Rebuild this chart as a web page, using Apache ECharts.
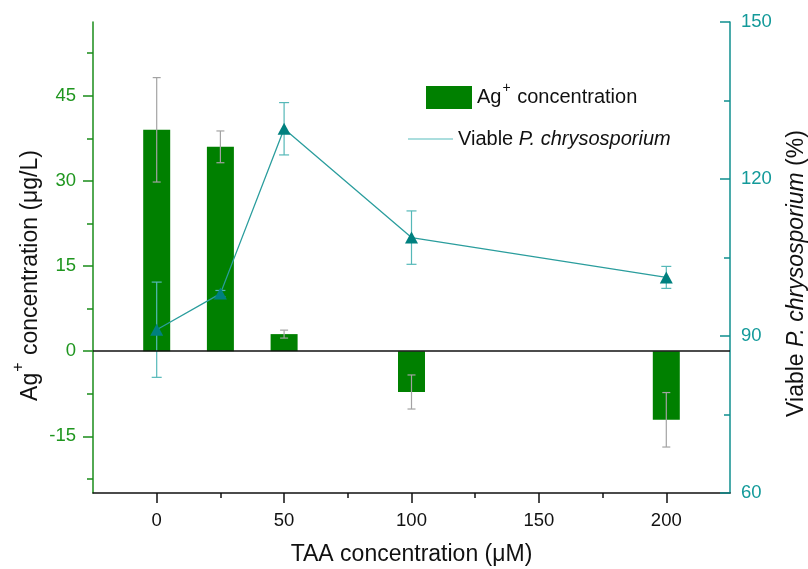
<!DOCTYPE html>
<html>
<head>
<meta charset="utf-8">
<script src="https://cdn.jsdelivr.net/npm/echarts@6/dist/echarts.min.js"></script>
<style>html,body{margin:0;padding:0;background:#fff}#c{width:808px;height:569px}</style>
</head>
<body>
<div id="c"></div>
<script>
// ---- data ----
const taa = [0, 25, 50, 100, 200];
const agConc = [39, 36, 3, -7.2, -12.1];
const agErr = [9.2, 2.8, 0.7, 3, 4.8];
const viable = [91.2, 98.1, 129.6, 108.8, 101.2];
const viableErr = [9.1, 0.6, 5, 5.1, 2.1];
const xTicks = [0, 50, 100, 150, 200];
const xMinor = [25, 75, 125, 175];
const yLeftTicks = [-15, 0, 15, 30, 45];
const yLeftMinor = [-22.5, -7.5, 7.5, 22.5, 37.5, 52.5];

const FONT = "'Liberation Sans', Arial, sans-serif";
const GREEN = '#008000';
const AXG = '#1a8c1a';
const TEAL = '#0f8f8f';
const TICKFS = 18.5;

function errRender(color, half) {
  return function (params, api) {
    const x = api.value(0), m = api.value(1), e = api.value(2);
    const t = api.coord([x, m + e]);
    const b = api.coord([x, m - e]);
    const st = { stroke: color, lineWidth: 1.2 };
    return {
      type: 'group',
      children: [
        { type: 'line', shape: { x1: t[0], y1: t[1], x2: b[0], y2: b[1] }, style: st },
        { type: 'line', shape: { x1: t[0] - half, y1: t[1], x2: t[0] + half, y2: t[1] }, style: st },
        { type: 'line', shape: { x1: b[0] - half, y1: b[1], x2: b[0] + half, y2: b[1] }, style: st }
      ]
    };
  };
}

const chart = echarts.init(document.getElementById('c'));
chart.setOption({
  animation: false,
  backgroundColor: '#fff',
  textStyle: { fontFamily: FONT },
  grid: { left: 93, right: 78, top: 22, bottom: 76, containLabel: false, outerBoundsMode: 'none' },
  legend: [
    {
      data: [{ name: 'Ag+', icon: 'rect' }],
      left: 426, top: 81.5, padding: 0,
      itemWidth: 46, itemHeight: 23,
      selectedMode: false,
      formatter: function () { return '{n|Ag}{s|+}{n| concentration}'; },
      textStyle: {
        rich: {
          n: { fontSize: 20, lineHeight: 24, color: '#111', fontFamily: FONT },
          s: { fontSize: 14, lineHeight: 14, color: '#111', fontFamily: FONT, padding: [0, 1, 18, 1] }
        }
      }
    },
    {
      data: [{ name: 'Viable', icon: 'rect', itemStyle: { color: '#8fd3d3' } }],
      left: 408, top: 129, padding: 0,
      itemWidth: 45, itemHeight: 1.5,
      selectedMode: false,
      formatter: function () { return '{n|Viable }{i|P. chrysosporium}'; },
      textStyle: {
        rich: {
          n: { fontSize: 20, lineHeight: 24, color: '#111', fontFamily: FONT },
          i: { fontSize: 20, lineHeight: 24, color: '#111', fontFamily: FONT, fontStyle: 'italic' }
        }
      }
    }
  ],
  xAxis: [
    {
      type: 'value', min: -25, max: 225, position: 'bottom',
      name: 'TAA concentration (μM)', nameLocation: 'middle', nameGap: 50,
      nameMoveOverlap: false,
      nameTextStyle: { fontSize: 23, color: '#111', fontFamily: FONT },
      axisLine: { show: true, onZero: false, lineStyle: { color: '#111', width: 1.5 } },
      axisTick: { show: true, customValues: xTicks, length: 10, lineStyle: { color: '#111', width: 1.5 } },
      axisLabel: { customValues: xTicks, fontSize: TICKFS, color: '#111', margin: 18, fontFamily: FONT },
      splitLine: { show: false }
    },
    {
      type: 'value', min: -25, max: 225, position: 'bottom',
      axisLine: { show: false, onZero: false },
      axisTick: { show: true, customValues: xMinor, length: 5, lineStyle: { color: '#111', width: 1.5 } },
      axisLabel: { show: false },
      splitLine: { show: false }
    }
  ],
  yAxis: [
    {
      type: 'value', min: -25, max: 58, position: 'left',
      name: '{n|Ag}{s|+}{n| concentration (μg/L)}', nameLocation: 'middle', nameGap: 49,
      nameMoveOverlap: false,
      nameTextStyle: {
        padding: [0, 36, 0, 0],
        rich: {
          n: { fontSize: 23, lineHeight: 26, color: '#111', fontFamily: FONT },
          s: { fontSize: 16, lineHeight: 16, color: '#111', fontFamily: FONT, padding: [0, 1, 24, 1] }
        }
      },
      axisLine: { show: true, onZero: false, lineStyle: { color: AXG, width: 1.5 } },
      axisTick: { show: true, customValues: yLeftTicks, length: 10, lineStyle: { color: AXG, width: 1.5 } },
      axisLabel: { customValues: yLeftTicks, fontSize: TICKFS, color: '#1f961f', margin: 17, fontFamily: FONT },
      splitLine: { show: false }
    },
    {
      type: 'value', min: -25, max: 58, position: 'left',
      axisLine: { show: false, onZero: false },
      axisTick: { show: true, customValues: yLeftMinor, length: 6, lineStyle: { color: AXG, width: 1.5 } },
      axisLabel: { show: false },
      splitLine: { show: false }
    },
    {
      type: 'value', min: 60, max: 150, interval: 30, position: 'right',
      name: '{n|Viable }{i|P. chrysosporium}{n| (%)}', nameLocation: 'middle', nameGap: 54,
      nameMoveOverlap: false,
      nameTextStyle: {
        padding: [0, 32, 0, 0],
        rich: {
          n: { fontSize: 23, lineHeight: 26, color: '#111', fontFamily: FONT },
          i: { fontSize: 23, lineHeight: 26, color: '#111', fontFamily: FONT, fontStyle: 'italic' }
        }
      },
      axisLine: { show: true, onZero: false, lineStyle: { color: TEAL, width: 1.5 } },
      axisTick: { show: true, inside: true, length: 10, lineStyle: { color: TEAL, width: 1.5 } },
      minorTick: { show: true, splitNumber: 2, length: 6, lineStyle: { color: TEAL, width: 1.5 } },
      axisLabel: { fontSize: TICKFS, color: '#139a9a', margin: 11, fontFamily: FONT },
      splitLine: { show: false },
      minorSplitLine: { show: false }
    }
  ],
  series: [
    {
      name: 'Ag+', type: 'bar', xAxisIndex: 0, yAxisIndex: 0,
      barWidth: 27,
      itemStyle: { color: GREEN },
      data: taa.map((x, i) => [x, agConc[i]]),
      z: 2,
      markLine: {
        silent: true, symbol: 'none', label: { show: false },
        lineStyle: { color: '#111', width: 1.5, type: 'solid' },
        data: [{ yAxis: 0 }]
      }
    },
    {
      type: 'custom', xAxisIndex: 0, yAxisIndex: 0,
      renderItem: errRender('#a3a3a3', 4),
      encode: { x: 0, y: 1 },
      data: taa.map((x, i) => [x, agConc[i], agErr[i]]),
      z: 3, silent: true
    },
    {
      type: 'custom', xAxisIndex: 0, yAxisIndex: 2,
      renderItem: errRender('#55b8b8', 5),
      encode: { x: 0, y: 1 },
      data: taa.map((x, i) => [x, viable[i], viableErr[i]]),
      z: 4, silent: true
    },
    {
      name: 'Viable', type: 'line', xAxisIndex: 0, yAxisIndex: 2,
      data: taa.map((x, i) => [x, viable[i]]),
      symbol: 'triangle', symbolSize: [13, 12],
      lineStyle: { color: '#2a9d9d', width: 1.3 },
      itemStyle: { color: '#00807f' },
      z: 5
    }
  ]
});
</script>
</body>
</html>
